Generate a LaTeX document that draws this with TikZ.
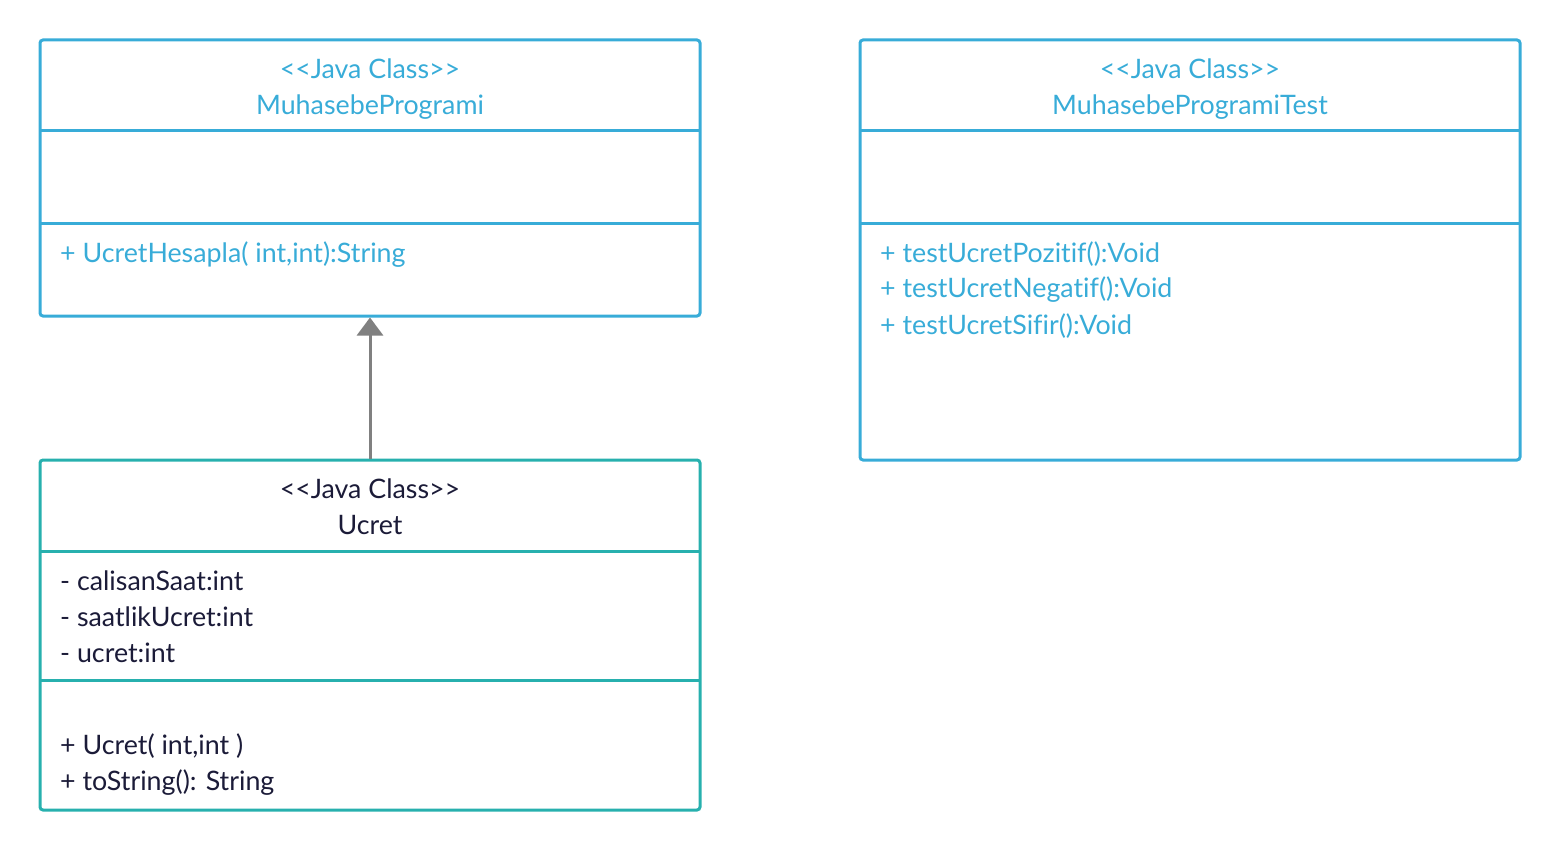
\documentclass[tikz,border=0pt]{standalone}
\usepackage{fontspec}
\setmainfont{Lato}[Ligatures={TeXOff,CommonOff}]
\usetikzlibrary{arrows.meta}
\definecolor{umlblue}{HTML}{38ACD8}
\definecolor{umlteal}{HTML}{27B0AE}
\definecolor{umlink}{HTML}{1B1B38}
\definecolor{umlgray}{HTML}{808080}
\tikzset{
  classbox/.style={draw, line width=3pt, rounded corners=3pt, inner sep=0pt},
  title/.style={anchor=base, inner sep=0pt, font=\fontsize{26.8}{36}\selectfont},
  member/.style={anchor=base west, inner sep=0pt, font=\fontsize{26.8}{36}\selectfont},
  inherit/.style={draw=umlgray, line width=3pt, -{Triangle[length=18pt,width=26pt]}}
}
\begin{document}
\begin{tikzpicture}[x=1pt,y=-1pt]
  \useasboundingbox (0,0) rectangle (1560,850);
  % MuhasebeProgrami
  \node [classbox, umlblue, minimum width=660pt, minimum height=276pt] (prog) at (370,178) {};
  \draw [umlblue, line width=3pt] (40,131) -- (700,131);
  \draw [umlblue, line width=3pt] (40,224) -- (700,224);
  \node [title, umlblue] (progst) at (370,78.5) {<<Java Class>>};
  \node [title, umlblue] (progname) at (370,114.5) {MuhasebeProgrami};
  \node [member, umlblue] (progm1) at (60,262) {+ UcretHesapla( int,int):String};
  % MuhasebeProgramiTest
  \node [classbox, umlblue, minimum width=660pt, minimum height=420pt] (test) at (1190,250) {};
  \draw [umlblue, line width=3pt] (860,131) -- (1520,131);
  \draw [umlblue, line width=3pt] (860,224) -- (1520,224);
  \node [title, umlblue] (testst) at (1190,78.5) {<<Java Class>>};
  \node [title, umlblue] (testname) at (1190,114.5) {MuhasebeProgramiTest};
  \node [member, umlblue] (testm1) at (880,262) {+ testUcretPozitif():Void};
  \node [member, umlblue] (testm2) at (880,298) {+ testUcretNegatif():Void};
  \node [member, umlblue] (testm3) at (880,334) {+ testUcretSifir():Void};
  % Ucret
  \node [classbox, umlteal, minimum width=660pt, minimum height=350pt] (ucret) at (370,635) {};
  \draw [umlteal, line width=3pt] (40,551) -- (700,551);
  \draw [umlteal, line width=3pt] (40,680) -- (700,680);
  \node [title, umlink] (ucretst) at (370,498.5) {<<Java Class>>};
  \node [title, umlink] (ucretname) at (370,534.5) {Ucret};
  \node [member, umlink] (ucreta1) at (60,590) {- calisanSaat:int};
  \node [member, umlink] (ucreta2) at (60,626) {- saatlikUcret:int};
  \node [member, umlink] (ucreta3) at (60,662) {- ucret:int};
  \node [member, umlink] (ucretm1) at (60,754) {+ Ucret( int,int )};
  \node [member, umlink] (ucretm2) at (60,790) {+ toString(): String};
  % kalitim
  \draw [inherit] (ucret.north) -- (prog.south);
\end{tikzpicture}
\end{document}
